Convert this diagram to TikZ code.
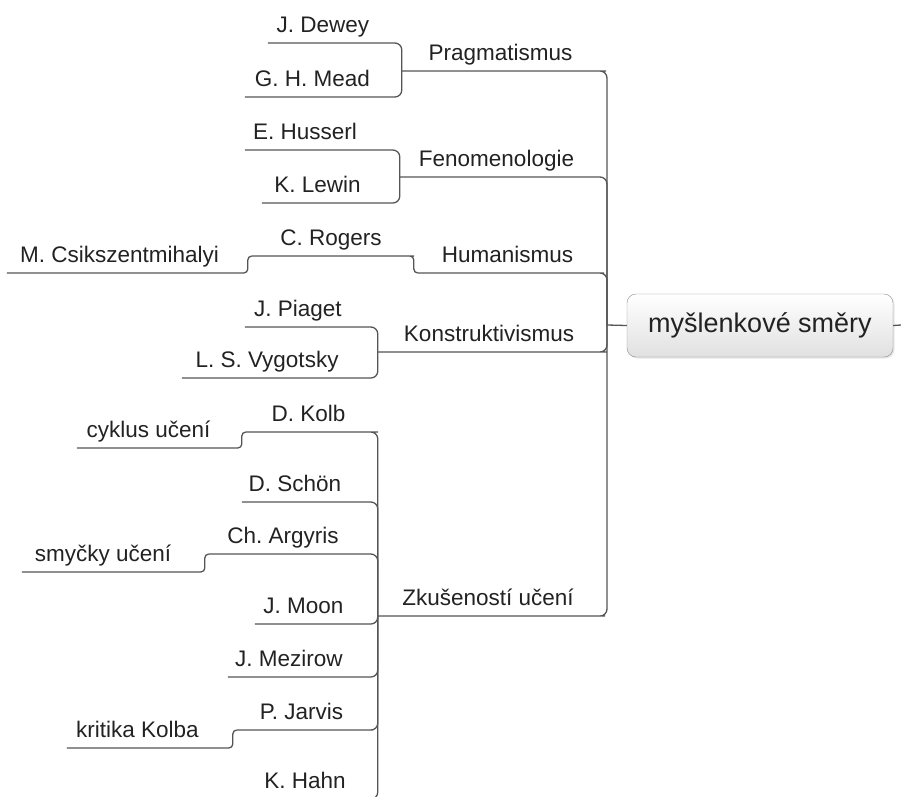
\documentclass[tikz,border=0pt]{standalone}
\usepackage{fontspec}
\setmainfont{Liberation Sans}
\usetikzlibrary{shadows}
\definecolor{linegray}{HTML}{555555}
\definecolor{txtgray}{HTML}{222222}
\frenchspacing
\begin{document}
\begin{tikzpicture}[x=1pt,y=-1pt,
  topic/.style={anchor=south,inner xsep=0pt,inner ysep=10.5pt,text height=16pt,text depth=0pt,
    text=txtgray,font=\fontsize{22.5}{27}\selectfont},
  root/.style={draw=black!45,rounded corners=9pt,top color=white,bottom color=black!12,
    minimum width=266pt,minimum height=63pt,inner sep=0pt,text=txtgray,
    font=\fontsize{27}{32}\selectfont,drop shadow={shadow xshift=1.5pt,shadow yshift=-1.5pt,opacity=0.2}},
  link/.style={draw=linegray,line width=1.3pt,rounded corners=7pt},
  twist/.style={draw=linegray,line width=1.3pt,rounded corners=4pt}]
  \useasboundingbox (0,0) rectangle (901,796);
  \node[root] (root) at (760,325.5) {myšlenkové směry};
  \coordinate (hub) at (607,325);
  \coordinate (edge) at (901,325);
  \draw[link] (root.east) -- (edge);
  \draw[link] (root.west) -- (hub);
  \node[topic,minimum width=197] (prag) at (500.5,71) {Pragmatismus};
  \node[topic,minimum width=193] (fen) at (496.5,177) {Fenomenologie};
  \node[topic,minimum width=179] (hum) at (507.5,273) {Humanismus};
  \node[topic,minimum width=222] (kon) at (489,352) {Konstruktivismus};
  \node[topic,minimum width=220] (zk) at (488,616) {Zkušeností učení};
  \node[topic,minimum width=110] (dewey) at (323,43) {J. Dewey};
  \node[topic,minimum width=135] (mead) at (312.5,97) {G. H. Mead};
  \node[topic,minimum width=120] (husserl) at (305,150) {E. Husserl};
  \node[topic,minimum width=111] (lewin) at (317.5,203) {K. Lewin};
  \node[topic,minimum width=158] (rogers) at (331,256) {C. Rogers};
  \node[topic,minimum width=225] (csik) at (119.5,273) {M. Csikszentmihalyi};
  \node[topic,minimum width=106] (piaget) at (298,327) {J. Piaget};
  \node[topic,minimum width=170] (vygotsky) at (267,378) {L. S. Vygotsky};
  \node[topic,minimum width=125] (kolb) at (308.5,432) {D. Kolb};
  \node[topic,minimum width=143] (cyklus) at (148.5,448) {cyklus učení};
  \node[topic,minimum width=106] (schon) at (295,502) {D. Schön};
  \node[topic,minimum width=148] (argyris) at (283,554) {Ch. Argyris};
  \node[topic,minimum width=162] (smycky) at (103,572) {smyčky učení};
  \node[topic,minimum width=97] (moon) at (303.5,624) {J. Moon};
  \node[topic,minimum width=122] (mezirow) at (289,677) {J. Mezirow};
  \node[topic,minimum width=129] (jarvis) at (301.5,730) {P. Jarvis};
  \node[topic,minimum width=141] (kritika) at (137.5,748) {kritika Kolba};
  \node[topic,minimum width=100] (hahn) at (305,799) {K. Hahn};
  \foreach \t in {prag,fen,hum,kon,zk}
    \draw[link] (hub) |- (\t.south east) -- (\t.south west);
  \foreach \t in {dewey,mead}
    \draw[link] (prag.south west) |- (\t.south east) -- (\t.south west);
  \foreach \t in {husserl,lewin}
    \draw[link] (fen.south west) |- (\t.south east) -- (\t.south west);
  \foreach \t in {piaget,vygotsky}
    \draw[link] (kon.south west) |- (\t.south east) -- (\t.south west);
  \foreach \t in {kolb,schon,argyris,moon,mezirow,jarvis,hahn}
    \draw[link] (zk.south west) |- (\t.south east) -- (\t.south west);
  \draw[twist] (hum.south west) -- ++(-4,0) |- (rogers.south east) -- (rogers.south west);
  \draw[twist] (rogers.south west) -- ++(-4,0) |- (csik.south east) -- (csik.south west);
  \draw[twist] (kolb.south west) -- ++(-4,0) |- (cyklus.south east) -- (cyklus.south west);
  \draw[twist] (argyris.south west) -- ++(-4,0) |- (smycky.south east) -- (smycky.south west);
  \draw[twist] (jarvis.south west) -- ++(-4,0) |- (kritika.south east) -- (kritika.south west);
\end{tikzpicture}
\end{document}
